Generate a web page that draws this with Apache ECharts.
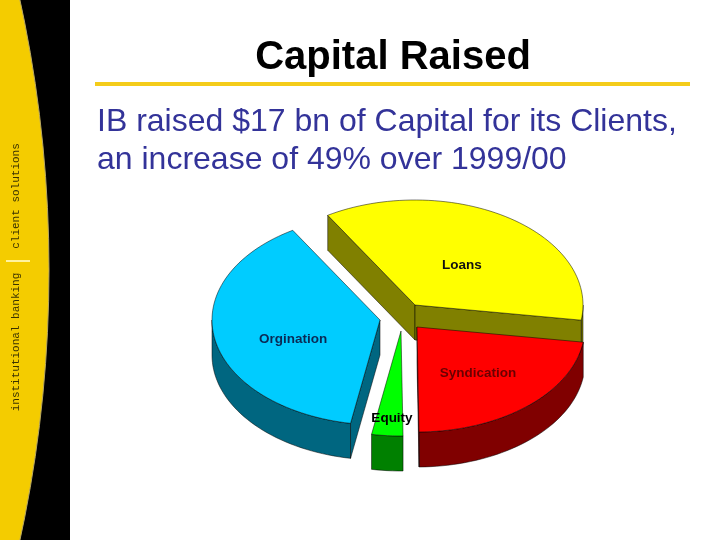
<!DOCTYPE html>
<html>
<head>
<meta charset="utf-8">
<style>html,body{margin:0;padding:0;background:#fff}#c{width:720px;height:540px}</style>
<script src="https://cdn.jsdelivr.net/npm/echarts@6/dist/echarts.min.js"></script>
</head>
<body>
<div id="c"></div>
<script>
// ---- data (share of capital raised, %) ----
const categories = ['Loans', 'Syndication', 'Equity', 'Orgination'];
const shares = [36, 22.5, 3, 38.5];
const heading = 'Capital Raised';
const subheadLines = ['IB raised $17 bn of Capital for its Clients,', 'an increase of 49% over 1999/00'];
const sideTexts = ['client solutions', 'institutional banking'];

// ---- layout and style ----
const startDeg = 238.7, RX = 168, RY = 105, DEPTH = 35;
const apexes = [[415, 305], [417, 327], [401, 331], [380, 320]];
const labelAt = [[462, 265], [478, 373], [392, 418], [293, 339]];
const topColors = ['#FFFF00', '#FF0000', '#00FF00', '#00CCFF'];
const wallColors = ['#808000', '#800000', '#008000', '#006680'];
const labelColors = ['#111', '#6a0000', '#000', '#0a2a55'];

const total = shares.reduce((a, b) => a + b, 0);
const spans = [];
shares.reduce((acc, v) => { const e = acc + v / total * 360; spans.push([acc, e]); return e; }, startDeg);

function pt(c, deg) {
  const t = deg * Math.PI / 180;
  return [c[0] + RX * Math.cos(t), c[1] + RY * Math.sin(t)];
}
function arc(c, a, b) {
  const out = [];
  const n = Math.max(2, Math.ceil((b - a) / 2));
  for (let i = 0; i <= n; i++) out.push(pt(c, a + (b - a) * i / n));
  return out;
}
const down = p => [p[0], p[1] + DEPTH];

function renderSlice(params, api) {
  const i = params.dataIndex;
  const c = apexes[i], s = spans[i];
  const children = [];
  const wallStyle = { fill: wallColors[i], stroke: '#000', lineWidth: 0.5 };
  const wall = pts => children.push({ type: 'polygon', shape: { points: pts }, style: wallStyle });
  // visible outer wall: front half of the ellipse (sin t > 0)
  [[0, 180], [360, 540]].forEach(r => {
    const a = Math.max(s[0], r[0]), b = Math.min(s[1], r[1]);
    if (b > a) { const top = arc(c, a, b); wall(top.concat(top.map(down).reverse())); }
  });
  // visible cut faces
  const ps = pt(c, s[0]), pe = pt(c, s[1]);
  if (ps[0] < c[0]) wall([c, ps, down(ps), down(c)]);
  if (pe[0] > c[0]) wall([c, pe, down(pe), down(c)]);
  // top face
  children.push({ type: 'polygon', shape: { points: [c].concat(arc(c, s[0], s[1])) },
    style: { fill: topColors[i], stroke: '#000', lineWidth: 0.5 } });
  children.push({ type: 'text', style: { text: api.value(1), x: labelAt[i][0], y: labelAt[i][1],
    align: 'center', verticalAlign: 'middle', font: 'bold 13.5px "Liberation Sans"', fill: labelColors[i] } });
  return { type: 'group', children };
}

const chart = echarts.init(document.getElementById('c'), null, { renderer: 'canvas' });
chart.setOption({
  animation: false,
  backgroundColor: '#fff',
  title: { text: heading, left: 388, top: 30, textAlign: 'center',
    textStyle: { fontFamily: 'Liberation Sans', fontSize: 40, fontWeight: 'bold', color: '#000', lineHeight: 46 } },
  graphic: [
    { type: 'rect', shape: { x: 0, y: 0, width: 70, height: 540 }, style: { fill: '#000' } },
    { type: 'circle', shape: { cx: -1222, cy: 270, r: 1271 }, style: { fill: '#F4CC00', stroke: '#B9A862', lineWidth: 1 } },
    { type: 'rect', shape: { x: 6, y: 260, width: 24, height: 2 }, style: { fill: '#FFF3A0' } },
    { type: 'rect', shape: { x: 95, y: 82, width: 595, height: 4 }, style: { fill: '#F4CC1A' } },
    { type: 'text', x: 16, y: 196, rotation: Math.PI / 2, style: { text: sideTexts[0], align: 'center', verticalAlign: 'middle',
        font: '11px "Liberation Mono"', fill: '#3a3200' } },
    { type: 'text', x: 16, y: 342, rotation: Math.PI / 2, style: { text: sideTexts[1], align: 'center', verticalAlign: 'middle',
        font: '11px "Liberation Mono"', fill: '#3a3200' } },
    { type: 'text', x: 97, y: 122, style: { text: subheadLines[0], verticalAlign: 'middle', font: '32px "Liberation Sans"', fill: '#333399' } },
    { type: 'text', x: 97, y: 160, style: { text: subheadLines[1], verticalAlign: 'middle', font: '32px "Liberation Sans"', fill: '#333399' } }
  ],
  series: [{
    type: 'custom',
    coordinateSystem: 'none',
    renderItem: renderSlice,
    silent: true,
    data: categories.map((n, i) => ({ name: n, value: [shares[i], n] }))
  }]
});
</script>
</body>
</html>
